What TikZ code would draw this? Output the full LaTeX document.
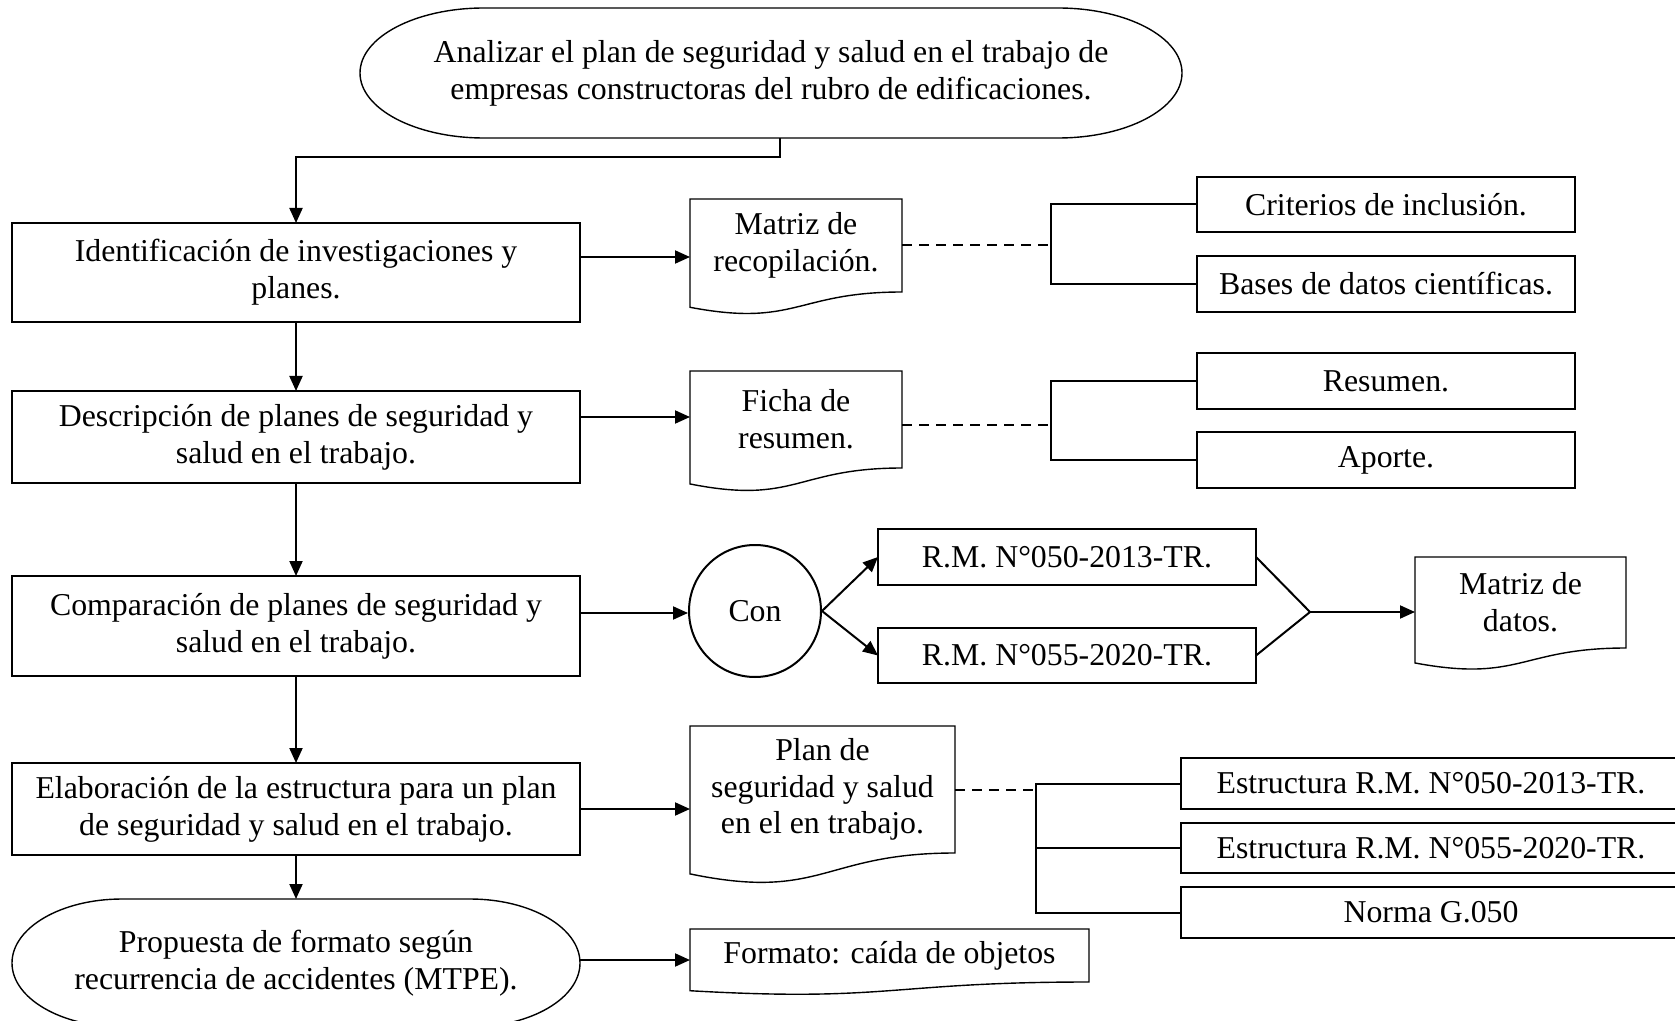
\documentclass[tikz,border=0pt]{standalone}
\usepackage{fontspec}
\setmainfont{Liberation Serif}
\usetikzlibrary{arrows.meta,calc}

\tikzset{
	box/.style={draw, rectangle, align=center, inner sep=2pt, outer sep=0pt},
	doc/.style={rectangle, align=center, inner sep=2pt, outer sep=0pt},
	term/.style={rectangle, align=center, inner sep=2pt, outer sep=0pt},
	circ/.style={draw, circle, inner sep=0pt, minimum size=66pt},
	arr/.style={-{Triangle[length=7.5pt,width=6.5pt]}},
	dash line/.style={dashed, dash pattern=on 5pt off 3.5pt},
}
% wavy bottom of a document node
\newcommand{\docframe}[1]{%
	\draw[line width=0.7pt] (#1.north west) -- (#1.north east) -- (#1.south east)
		.. controls (#1.south) and ($(#1.north)!1.381!(#1.south)$)
		.. ($(#1.north west)!1.1645!(#1.south west)$) -- cycle;}
% terminal with elliptic ends
\newcommand{\termframe}[3]{%
	\draw[line width=0.7pt] ([xshift=#2]#1.north west) -- ([xshift=-#2]#1.north east)
		arc[start angle=90, end angle=-90, x radius=#2, y radius=#3]
		-- ([xshift=#2]#1.south west)
		arc[start angle=270, end angle=90, x radius=#2, y radius=#3]
		-- cycle;}

\begin{document}
\begin{tikzpicture}[x=0.5pt, y=-0.5pt, line width=1pt, font=\fontsize{15.9pt}{18.4pt}\selectfont]
\useasboundingbox (0,0) rectangle (1675,1021);
\clip (0,0) rectangle (1675,1021);

\node[term, minimum width=411pt, minimum height=65pt] (goal) at (771,73)
	{Analizar el plan de seguridad y salud en el trabajo de\\empresas constructoras del rubro de edificaciones.};
\termframe{goal}{62pt}{32.5pt}

\node[box, minimum width=283.75pt, minimum height=49.5pt] (b1) at (296,272.5)
	{Identificación de investigaciones y\\planes.};
\node[box, minimum width=283.75pt, minimum height=46pt] (b2) at (296,437)
	{Descripción de planes de seguridad y\\salud en el trabajo.};
\node[box, minimum width=283.75pt, minimum height=50pt] (b3) at (296,626)
	{Comparación de planes de seguridad y\\salud en el trabajo.};
\node[box, minimum width=283.75pt, minimum height=46pt] (b4) at (296,809)
	{Elaboración de la estructura para un plan\\de seguridad y salud en el trabajo.};
\node[term, minimum width=284pt, minimum height=64pt] (prop) at (296,963)
	{Propuesta de formato según\\recurrencia de accidentes (MTPE).};
\termframe{prop}{55pt}{32pt}

\node[doc, minimum width=106pt, minimum height=46.5pt] (d1) at (796,245.5) {Matriz de\\recopilación.};
\node[doc, minimum width=106pt, minimum height=48.5pt] (d2) at (796,419.5) {Ficha de\\resumen.};
\node[doc, minimum width=105.5pt, minimum height=45.5pt] (d3) at (1520.5,602.5) {Matriz de\\datos.};
\node[doc, minimum width=132.5pt, minimum height=63.5pt] (d4) at (822.5,789.5) {Plan de\\seguridad y salud\\en el en trabajo.};
\node[doc, minimum width=199.5pt, minimum height=26.5pt] (d5) at (889.5,955.5) {Formato: caída de objetos};
\foreach \n in {d1,d2,d3,d4,d5}
	\docframe{\n};

\node[circ] (con) at (755,611) {Con};
\node[box, minimum width=189pt, minimum height=28pt] (rm1) at (1067,557) {R.M. N°050-2013-TR.};
\node[box, minimum width=189pt, minimum height=27.5pt] (rm2) at (1067,655.5) {R.M. N°055-2020-TR.};

\node[box, minimum width=189pt, minimum height=27.5pt] (cr) at (1386,204.5) {Criterios de inclusión.};
\node[box, minimum width=189pt, minimum height=28pt] (ba) at (1386,284) {Bases de datos científicas.};
\node[box, minimum width=189pt, minimum height=28pt] (re) at (1386,381) {Resumen.};
\node[box, minimum width=189pt, minimum height=28pt] (ap) at (1386,460) {Aporte.};

\node[box, minimum width=250pt, minimum height=25.5pt] (e1) at (1431,783.5) {Estructura R.M. N°050-2013-TR.};
\node[box, minimum width=250pt, minimum height=25pt] (e2) at (1431,848) {Estructura R.M. N°055-2020-TR.};
\node[box, minimum width=250pt, minimum height=25.5pt] (ng) at (1431,912.5) {Norma G.050};

\coordinate (k1) at (1051,247);
\coordinate (k2) at (1051,425);
\coordinate (k3) at (1036,790);
\coordinate (j) at (1310,612);

% main column
\draw[arr] ([xshift=4.5pt]goal.south) -- ++(0,19) -| (b1.north);
\draw[arr] (b1.south) -- (b2.north);
\draw[arr] (b2.south) -- (b3.north);
\draw[arr] (b3.south) -- (b4.north);
\draw[arr] (b4.south) -- (prop.north);

% to the right
\draw[arr] ([yshift=7.75pt]b1.east) -- ([yshift=7.75pt]b1.east -| d1.west);
\draw[arr] ([yshift=10pt]b2.east) -- ([yshift=10pt]b2.east -| d2.west);
\draw[arr] ([yshift=6.5pt]b3.east) -- ([yshift=6.5pt]b3.east -| con.west);
\draw[arr] (b4.east) -- (b4.east -| d4.west);
\draw[arr] ([yshift=1.5pt]prop.east) -- ([yshift=1.5pt]prop.east -| d5.west);

\draw[dash line] (d1.east) -- (d1.east -| k1);
\draw (cr.west) -| (k1) |- (ba.west);
\draw[dash line] (d2.east |- k2) -- (k2);
\draw (re.west) -| (k2) |- (ap.west);

\draw[arr] (con.east) -- (rm1.west);
\draw[arr] (con.east) -- (rm2.west);
\draw (rm1.east) -- (j) -- (rm2.east);
\draw[arr] (j) -- (j -| d3.west);

\draw[dash line] (d4.east) -- (d4.east -| k3);
\draw (e1.west) -| (k3) |- (ng.west);
\draw (e2.west) -- (e2.west -| k3);
\end{tikzpicture}
\end{document}
